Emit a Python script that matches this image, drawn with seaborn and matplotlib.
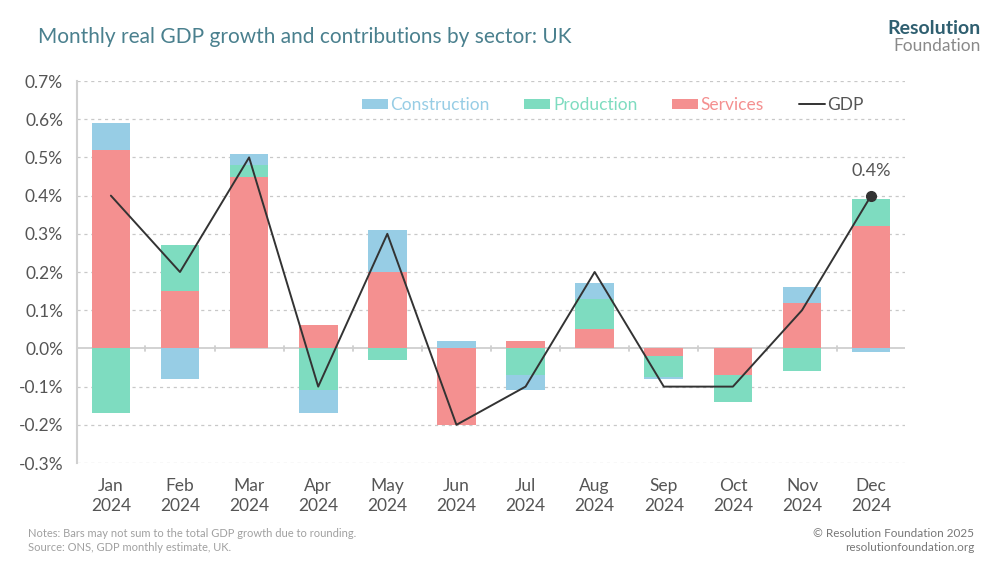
import numpy as np
import pandas as pd
import matplotlib
matplotlib.use("Agg")
import matplotlib.pyplot as plt
from matplotlib.patches import Patch
from matplotlib.lines import Line2D
import seaborn as sns

months = ["Jan\n2024", "Feb\n2024", "Mar\n2024", "Apr\n2024", "May\n2024", "Jun\n2024",
          "Jul\n2024", "Aug\n2024", "Sep\n2024", "Oct\n2024", "Nov\n2024", "Dec\n2024"]
services = [0.52, 0.15, 0.45, 0.06, 0.20, -0.20, 0.02, 0.05, -0.02, -0.07, 0.12, 0.32]
production = [-0.17, 0.12, 0.03, -0.11, -0.03, 0.00, -0.07, 0.08, -0.055, -0.07, -0.06, 0.07]
construction = [0.07, -0.08, 0.03, -0.06, 0.11, 0.02, -0.04, 0.04, -0.005, 0.00, 0.04, -0.01]
gdp = [0.4, 0.2, 0.5, -0.1, 0.3, -0.2, -0.1, 0.2, -0.1, -0.1, 0.1, 0.4]
yticks = [-0.3, -0.2, -0.1, 0.0, 0.1, 0.2, 0.3, 0.4, 0.5, 0.6, 0.7]

sns.set_theme(style="white")
plt.rcParams['font.family'] = ['Lato', 'DejaVu Sans']

C_SERV = "#F49090"
C_PROD = "#7EDCC0"
C_CONS = "#97CDE5"
C_GDP = "#333333"
GRID = "#C8C8C8"
TXT = "#555555"

fig = plt.figure(figsize=(10, 5.63), dpi=100)
ax = fig.add_axes([0.077, 0.1776, 0.828, 0.6785])

x = np.arange(len(months))
width = 0.56
pos_bottom = np.zeros(len(months))
neg_bottom = np.zeros(len(months))
for vals, col in [(services, C_SERV), (production, C_PROD), (construction, C_CONS)]:
    v = np.array(vals, dtype=float)
    bottoms = np.where(v >= 0, pos_bottom, neg_bottom)
    ax.bar(x, v, width=width, bottom=bottoms, color=col, edgecolor="none", zorder=2)
    pos_bottom = pos_bottom + np.where(v > 0, v, 0)
    neg_bottom = neg_bottom + np.where(v < 0, v, 0)

df = pd.DataFrame({"x": x, "gdp": gdp})
sns.lineplot(data=df, x="x", y="gdp", ax=ax, color=C_GDP, linewidth=1.4, zorder=4)
ax.plot(x[-1], gdp[-1], "o", color=C_GDP, markersize=7, zorder=5)
ax.annotate(f"{gdp[-1]:.1f}%", (x[-1], gdp[-1]), xytext=(0, 12), textcoords="offset points",
            ha="center", va="bottom", fontsize=13, color=TXT)

ax.set_xlim(-0.49, 11.49)
ax.set_ylim(-0.3, 0.7)
ax.set_yticks(yticks)
ax.set_yticklabels([f"{t:.1f}%" for t in yticks], fontsize=12.5, color=TXT)
ax.set_xticks(x)
ax.set_xticklabels(months, fontsize=12.5, color=TXT, linespacing=1.25)
ax.tick_params(axis="y", length=0, pad=10)
ax.tick_params(axis="x", length=0, pad=11)
ax.set_xlabel("")
ax.set_ylabel("")
for t in yticks:
    if t != 0:
        ax.axhline(t, color=GRID, linestyle=(0, (2.5, 3)), linewidth=0.9, zorder=0)
ax.axhline(0, color="#CFCFCF", linewidth=1.3, zorder=1)
for b in x[:-1] + 0.5:
    ax.plot([b, b], [-0.006, 0.006], color="#CFCFCF", linewidth=1.3, zorder=1)
for s in ["top", "right", "bottom"]:
    ax.spines[s].set_visible(False)
ax.spines["left"].set_color("#D0D0D0")
ax.spines["left"].set_linewidth(1.5)

handles = [Patch(facecolor=C_CONS, edgecolor="none"),
           Patch(facecolor=C_PROD, edgecolor="none"),
           Patch(facecolor=C_SERV, edgecolor="none"),
           Line2D([0], [0], color=C_GDP, linewidth=1.4)]
labels = ["Construction", "Production", "Services", "GDP"]
leg = ax.legend(handles, labels, loc="center", bbox_to_anchor=(0.647, 0.937), ncol=4,
                frameon=False, fontsize=12.5, handlelength=1.5, handleheight=0.55,
                handletextpad=0.15, columnspacing=2.0,
                labelcolor=[C_CONS, C_PROD, C_SERV, TXT])

fig.text(0.038, 0.935, "Monthly real GDP growth and contributions by sector: UK",
         fontsize=15, color="#4A808E", ha="left", va="center")
fig.text(0.981, 0.950, "Resolution", fontsize=14, fontweight="bold", color="#2F5F70",
         ha="right", va="center")
fig.text(0.981, 0.918, "Foundation", fontsize=12.5, color="#8A8A8A", ha="right", va="center")

fig.text(0.028, 0.040, "Notes: Bars may not sum to the total GDP growth due to rounding.\nSource: ONS, GDP monthly estimate, UK.",
         fontsize=8, color="#A0A0A0", ha="left", va="center", linespacing=1.3)
fig.text(0.974, 0.040, "© Resolution Foundation 2025\nresolutionfoundation.org",
         fontsize=8.5, color="#777777", ha="right", va="center", linespacing=1.3)

fig.savefig("out.png", dpi=100, facecolor="white")
